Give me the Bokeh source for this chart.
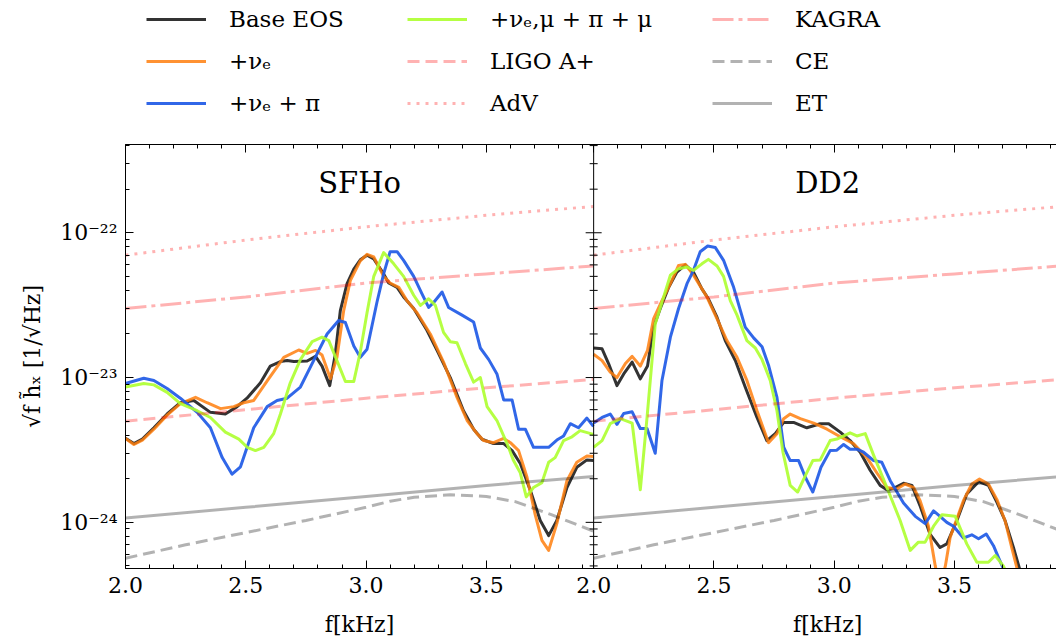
from bokeh.plotting import figure
from bokeh.models import (Range1d, FixedTicker, CustomJSTickFormatter, LinearAxis,
                          Span, Label, Legend, LegendItem)
from bokeh.core.properties import value
from bokeh.layouts import column
from bokeh.embed import file_html
from bokeh.resources import INLINE

# ---------------- data (frequency in kHz, strain sqrt(f) h_x) ----------------
# SFHo panel
sfho_base_f = [2.000, 2.035, 2.070, 2.118, 2.173, 2.228, 2.284, 2.353, 2.415, 2.464, 2.505, 2.561,
               2.602, 2.644, 2.672, 2.700, 2.755, 2.790, 2.817, 2.849, 2.872, 2.893, 2.921, 2.949,
               2.976, 3.004, 3.032, 3.073, 3.094, 3.129, 3.156, 3.198, 3.253, 3.295, 3.350, 3.405,
               3.447, 3.482, 3.530, 3.572, 3.607, 3.641, 3.683, 3.724, 3.759, 3.793, 3.835, 3.876,
               3.918, 3.945]
sfho_base_h = [3.8e-24, 3.5e-24, 3.76e-24, 4.5e-24, 5.6e-24, 6.7e-24, 6.95e-24, 5.75e-24, 5.6e-24,
               6.3e-24, 7.2e-24, 9.2e-24, 1.2e-23, 1.29e-23, 1.31e-23, 1.29e-23, 1.30e-23, 1.4e-23,
               1.2e-23, 8.8e-24, 1.45e-23, 2.9e-23, 4.45e-23, 5.6e-23, 6.5e-23, 7.0e-23, 6.6e-23,
               5.2e-23, 4.5e-23, 4.2e-23, 3.6e-23, 3.0e-23, 2.12e-23, 1.54e-23, 1.0e-23, 5.9e-24,
               4.4e-24, 3.75e-24, 3.5e-24, 3.5e-24, 3.13e-24, 2.55e-24, 1.66e-24, 1.03e-24, 8.1e-25,
               1.03e-24, 1.74e-24, 2.4e-24, 2.7e-24, 2.67e-24]

sfho_nue_f = [2.000, 2.035, 2.070, 2.118, 2.173, 2.228, 2.291, 2.339, 2.395, 2.450, 2.491, 2.533,
              2.589, 2.658, 2.720, 2.755, 2.790, 2.817, 2.852, 2.879, 2.907, 2.935, 2.976, 3.004,
              3.032, 3.073, 3.100, 3.136, 3.170, 3.212, 3.267, 3.322, 3.378, 3.420, 3.461, 3.489,
              3.530, 3.572, 3.600, 3.634, 3.669, 3.703, 3.731, 3.759, 3.793, 3.835, 3.876, 3.918,
              3.945]
sfho_nue_h = [3.8e-24, 3.45e-24, 3.7e-24, 4.4e-24, 5.5e-24, 6.6e-24, 7.3e-24, 6.7e-24, 6.1e-24,
              6.3e-24, 6.7e-24, 6.95e-24, 9.5e-24, 1.38e-23, 1.55e-23, 1.47e-23, 1.54e-23, 1.43e-23,
              9.8e-24, 1.38e-23, 2.9e-23, 4.7e-23, 6.4e-23, 7.1e-23, 6.8e-23, 5.0e-23, 4.5e-23,
              4.2e-23, 3.4e-23, 2.8e-23, 2.0e-23, 1.28e-23, 7.3e-24, 5.05e-24, 4.1e-24, 3.67e-24,
              3.55e-24, 3.8e-24, 3.55e-24, 3.13e-24, 2.05e-24, 1.13e-24, 7.5e-25, 6.4e-25, 9.8e-25,
              1.94e-24, 2.6e-24, 2.87e-24, 2.85e-24]

sfho_nuepi_f = [2.000, 2.076, 2.118, 2.173, 2.228, 2.298, 2.353, 2.402, 2.443, 2.478, 2.533, 2.589,
                2.630, 2.672, 2.727, 2.782, 2.838, 2.886, 2.914, 2.949, 2.976, 3.004, 3.045, 3.073,
                3.100, 3.129, 3.156, 3.198, 3.232, 3.260, 3.281, 3.316, 3.343, 3.399, 3.447, 3.475,
                3.510, 3.544, 3.572, 3.607, 3.634, 3.662, 3.696, 3.759, 3.793, 3.821, 3.849, 3.883,
                3.918, 3.945]
sfho_nuepi_h = [9.1e-24, 9.9e-24, 9.55e-24, 8.4e-24, 7.2e-24, 5.75e-24, 4.5e-24, 2.8e-24, 2.15e-24,
                2.42e-24, 4.5e-24, 6.3e-24, 6.95e-24, 7.2e-24, 8.6e-24, 1.31e-23, 2.0e-23, 2.48e-23,
                2.4e-23, 1.65e-23, 1.38e-23, 1.57e-23, 3.3e-23, 5.2e-23, 7.4e-23, 7.4e-23, 6.45e-23,
                5.0e-23, 3.8e-23, 3.05e-23, 3.3e-23, 3.9e-23, 3.05e-23, 2.7e-23, 2.42e-23, 1.6e-23,
                1.33e-23, 1.06e-23, 7.0e-24, 7.0e-24, 4.4e-24, 4.4e-24, 3.3e-24, 3.3e-24, 3.7e-24,
                3.95e-24, 4.8e-24, 4.5e-24, 5.25e-24, 4.6e-24]

sfho_all_f = [2.000, 2.076, 2.118, 2.173, 2.228, 2.298, 2.353, 2.415, 2.471, 2.506, 2.540, 2.575,
              2.616, 2.644, 2.685, 2.727, 2.776, 2.817, 2.845, 2.879, 2.914, 2.949, 2.976, 3.004,
              3.032, 3.073, 3.115, 3.156, 3.198, 3.226, 3.260, 3.288, 3.322, 3.350, 3.378, 3.413,
              3.447, 3.475, 3.503, 3.544, 3.586, 3.613, 3.641, 3.666, 3.696, 3.731, 3.759, 3.786,
              3.821, 3.856, 3.890, 3.945]
sfho_all_h = [8.6e-24, 9.1e-24, 8.9e-24, 7.9e-24, 6.6e-24, 5.9e-24, 5.3e-24, 4.2e-24, 3.76e-24,
              3.3e-24, 3.13e-24, 3.3e-24, 4.1e-24, 5.6e-24, 9.2e-24, 1.33e-23, 1.77e-23, 1.9e-23,
              1.8e-23, 1.31e-23, 9.4e-24, 9.4e-24, 1.5e-23, 2.8e-23, 5.0e-23, 7.3e-23, 6.1e-23,
              5.0e-23, 3.7e-23, 3.15e-23, 3.5e-23, 3.15e-23, 2.05e-23, 1.77e-23, 1.74e-23, 1.25e-23,
              9.3e-24, 1.0e-23, 6.3e-24, 5.05e-24, 3.5e-24, 2.67e-24, 2.2e-24, 1.5e-24, 1.74e-24,
              1.88e-24, 2.6e-24, 2.8e-24, 3.67e-24, 3.9e-24, 4.3e-24, 4.05e-24]

# DD2 panel
dd2_base_f = [2.000, 2.035, 2.062, 2.097, 2.125, 2.160, 2.194, 2.224, 2.249, 2.277, 2.312, 2.346,
              2.381, 2.415, 2.450, 2.477, 2.513, 2.547, 2.589, 2.630, 2.679, 2.720, 2.755, 2.790,
              2.831, 2.886, 2.942, 2.977, 3.025, 3.066, 3.108, 3.150, 3.191, 3.219, 3.247, 3.288,
              3.323, 3.357, 3.398, 3.440, 3.468, 3.510, 3.551, 3.600, 3.641, 3.676, 3.710, 3.745,
              3.770, 3.800]
dd2_base_h = [1.6e-23, 1.58e-23, 1.25e-23, 8.8e-24, 1.06e-23, 1.28e-23, 9.8e-24, 1.2e-23, 2.23e-23,
              3.0e-23, 4.2e-23, 5.35e-23, 6.0e-23, 5.35e-23, 4.1e-23, 3.5e-23, 2.6e-23, 1.8e-23,
              1.31e-23, 8.6e-24, 5.3e-24, 3.67e-24, 4.1e-24, 4.9e-24, 4.9e-24, 4.5e-24, 4.8e-24,
              4.8e-24, 4.2e-24, 3.67e-24, 3.05e-24, 2.28e-24, 1.8e-24, 1.68e-24, 1.72e-24, 1.86e-24,
              1.8e-24, 1.3e-24, 8.3e-25, 6.7e-25, 7.1e-25, 1.03e-24, 1.57e-24, 1.91e-24, 1.8e-24,
              1.38e-24, 1.03e-24, 6.7e-25, 4.8e-25, 3.3e-25]

dd2_nue_f = [2.000, 2.035, 2.069, 2.097, 2.132, 2.160, 2.194, 2.224, 2.249, 2.284, 2.319, 2.353,
             2.381, 2.415, 2.471, 2.513, 2.554, 2.596, 2.637, 2.679, 2.727, 2.762, 2.790, 2.817,
             2.859, 2.915, 2.970, 3.025, 3.080, 3.136, 3.177, 3.219, 3.260, 3.295, 3.330, 3.357,
             3.392, 3.420, 3.441, 3.462, 3.482, 3.537, 3.572, 3.604, 3.641, 3.676, 3.710, 3.738,
             3.760, 3.800]
dd2_nue_h = [1.45e-23, 1.31e-23, 1.09e-23, 1.0e-23, 1.25e-23, 1.4e-23, 1.2e-23, 1.54e-23, 2.54e-23,
             3.4e-23, 4.45e-23, 5.95e-23, 6.05e-23, 5.1e-23, 3.6e-23, 2.54e-23, 1.8e-23, 1.38e-23,
             9.55e-24, 5.9e-24, 3.55e-24, 4.1e-24, 5.2e-24, 5.6e-24, 5.2e-24, 4.85e-24, 4.4e-24,
             3.9e-24, 3.5e-24, 2.8e-24, 2.2e-24, 1.74e-24, 1.7e-24, 1.84e-24, 1.74e-24, 1.41e-24,
             9.4e-25, 5.0e-25, 3.5e-25, 5.0e-25, 7.9e-25, 1.41e-24, 1.84e-24, 1.99e-24, 1.84e-24,
             1.44e-24, 1.03e-24, 6.7e-25, 4.8e-25, 3.0e-25]

dd2_nuepi_f = [2.000, 2.035, 2.069, 2.097, 2.125, 2.160, 2.194, 2.222, 2.256, 2.284, 2.319, 2.353,
               2.388, 2.415, 2.443, 2.474, 2.506, 2.540, 2.582, 2.630, 2.665, 2.700, 2.728, 2.762,
               2.790, 2.817, 2.852, 2.880, 2.911, 2.945, 2.983, 3.011, 3.039, 3.066, 3.094, 3.122,
               3.164, 3.198, 3.233, 3.288, 3.337, 3.378, 3.413, 3.440, 3.468, 3.496, 3.537, 3.572,
               3.600, 3.632, 3.662, 3.683, 3.703, 3.750]
dd2_nuepi_h = [4.85e-24, 5.3e-24, 5.6e-24, 4.75e-24, 5.65e-24, 5.8e-24, 4.45e-24, 4.45e-24, 3.0e-24,
               9.55e-24, 1.9e-23, 3.0e-23, 4.45e-23, 5.5e-23, 7.4e-23, 8.1e-23, 7.9e-23, 6.45e-23,
               4.2e-23, 2.23e-23, 1.88e-23, 1.63e-23, 1.2e-23, 7.3e-24, 3.3e-24, 2.67e-24, 2.67e-24,
               2.05e-24, 1.62e-24, 2.4e-24, 3.13e-24, 3.15e-24, 3.45e-24, 3.2e-24, 3.2e-24, 3.05e-24,
               2.67e-24, 2.6e-24, 1.94e-24, 1.36e-24, 1.1e-24, 9.8e-25, 1.2e-24, 1.1e-24, 1.0e-24,
               9.4e-25, 7.8e-25, 8.2e-25, 7.7e-25, 8.3e-25, 6.9e-25, 5.7e-25, 4.8e-25, 3.5e-25]

dd2_all_f = [2.000, 2.035, 2.069, 2.111, 2.160, 2.194, 2.222, 2.256, 2.284, 2.319, 2.353, 2.388,
             2.415, 2.450, 2.477, 2.513, 2.540, 2.568, 2.596, 2.637, 2.672, 2.700, 2.734, 2.762,
             2.787, 2.817, 2.848, 2.880, 2.911, 2.942, 2.983, 3.011, 3.066, 3.094, 3.129, 3.164,
             3.219, 3.274, 3.316, 3.350, 3.378, 3.413, 3.448, 3.503, 3.551, 3.593, 3.641, 3.669,
             3.703, 3.730]
dd2_all_h = [3.3e-24, 3.67e-24, 4.8e-24, 5.2e-24, 4.85e-24, 1.68e-24, 5.3e-24, 2.35e-23, 3.3e-23,
             5.1e-23, 5.65e-23, 5.8e-23, 5.5e-23, 6.1e-23, 6.55e-23, 5.9e-23, 5.0e-23, 3.4e-23,
             2.7e-23, 1.8e-23, 1.6e-23, 1.33e-23, 9.55e-24, 5.9e-24, 3.05e-24, 1.8e-24, 1.62e-24,
             2.1e-24, 2.67e-24, 2.7e-24, 3.67e-24, 3.76e-24, 4.15e-24, 3.95e-24, 4.1e-24, 2.9e-24,
             1.74e-24, 1.03e-24, 6.4e-25, 7.3e-25, 7.3e-25, 9.4e-25, 1.13e-24, 1.1e-24, 7.1e-25,
             5.3e-25, 5.3e-25, 5.9e-25, 5.0e-25, 4.0e-25]

# detector sensitivity curves
sens_f = [2.0, 2.5, 3.0, 3.5, 3.945]
ligo_h = [5.0e-24, 6.0e-24, 7.2e-24, 8.5e-24, 9.7e-24]
adv_h = [7.0e-23, 8.9e-23, 1.1e-22, 1.32e-22, 1.52e-22]
kagra_h = [3.0e-23, 3.6e-23, 4.5e-23, 5.2e-23, 5.9e-23]
et_h = [1.07e-24, 1.27e-24, 1.51e-24, 1.8e-24, 2.07e-24]
ce_f = [2.0, 2.25, 2.5, 2.75, 3.0, 3.1, 3.2, 3.35, 3.5, 3.62, 3.77, 3.945]
ce_h = [5.65e-25, 7.0e-25, 8.5e-25, 1.03e-24, 1.27e-24, 1.4e-24, 1.49e-24, 1.55e-24, 1.51e-24,
        1.39e-24, 1.13e-24, 8.7e-25]

panel_titles = ["SFHo", "DD2"]
x_label = "f[kHz]"
y_label = "√f h\u0303\u2093 [1/√Hz]"

# ---------------- styling ----------------
FONT = "DejaVu Serif"
FRAME_LEFT = 125
XMIN, XMAX = 2.0, 3.946          # each panel's frequency window
PANEL = XMAX - XMIN
XEND = 5.87                      # right edge of the visible area (right panel is cut)
YMIN, YMAX = 4.8e-25, 4.07e-22

series_style = [
    ("Base EOS", "black", 0.8),
    ("+ν\u2091", "#ff7f0e", 0.85),
    ("+ν\u2091 + π", "#1f5ae6", 0.92),
    ("+ν\u2091,μ + π + μ", "#adff2f", 0.9),
]
sens_style = [
    ("LIGO A+", "red", "12 6"),
    ("AdV", "red", "3 6"),
    ("KAGRA", "red", "21 5 4 5"),
    ("CE", "black", "12 6"),
    ("ET", "black", "solid"),
]

# ---------------- main figure ----------------
x_range = Range1d(XMIN, XEND)
dd2_range = Range1d(XMIN - PANEL, XEND - PANEL)
p = figure(width=1056, height=470, x_range=x_range, y_range=Range1d(YMIN, YMAX),
           y_axis_type="log", output_backend="svg", toolbar_location=None,
           min_border_left=FRAME_LEFT, min_border_right=0, min_border_top=4, min_border_bottom=42)
p.extra_x_ranges = {"dd2": dd2_range}
p.xgrid.visible = False
p.ygrid.visible = False
p.outline_line_color = None

sfho = [(sfho_base_f, sfho_base_h), (sfho_nue_f, sfho_nue_h),
        (sfho_nuepi_f, sfho_nuepi_h), (sfho_all_f, sfho_all_h)]
dd2 = [(dd2_base_f, dd2_base_h), (dd2_nue_f, dd2_nue_h),
       (dd2_nuepi_f, dd2_nuepi_h), (dd2_all_f, dd2_all_h)]

for (f, h), (_, col, a) in zip(sfho, series_style):
    p.line(f, h, line_color=col, line_alpha=a, line_width=3, line_join="round")
for (f, h), (_, col, a) in zip(dd2, series_style):
    p.line(f, h, line_color=col, line_alpha=a, line_width=3, line_join="round",
           x_range_name="dd2")

sens_data = [(sens_f, ligo_h), (sens_f, adv_h), (sens_f, kagra_h), (ce_f, ce_h), (sens_f, et_h)]
for rng in ("default", "dd2"):
    for (f, h), (_, col, dash) in zip(sens_data, sens_style):
        p.line(f, h, line_color=col, line_alpha=0.3, line_width=3, line_dash=dash,
               x_range_name=rng)

# x ticks (both panels share the same frequency scale; right panel shifted by PANEL)
x_major = [2.0, 2.5, 3.0, 3.5]
x_minor = [round(2.0 + 0.1 * i, 1) for i in range(20)]
x_ticker = FixedTicker(ticks=x_major + [t + PANEL for t in x_major],
                       minor_ticks=x_minor + [t + PANEL for t in x_minor])
x_fmt = CustomJSTickFormatter(args=dict(xmax=XMAX, panel=PANEL), code="""
    const v = tick > xmax - 1e-6 ? tick - panel : tick;
    return v.toFixed(1);
""")

xa = p.xaxis[0]
xa.ticker = x_ticker
xa.formatter = x_fmt
top = LinearAxis(ticker=x_ticker, formatter=CustomJSTickFormatter(code="return '';"),
                 major_label_text_font_size="0px", major_label_standoff=0)
p.add_layout(top, "above")

y_major = [1e-24, 1e-23, 1e-22]
y_minor = [m * 10.0 ** e for e in (-25, -24, -23, -22) for m in range(2, 10)]
y_minor = [v for v in y_minor if YMIN <= v <= YMAX]
ya = p.yaxis[0]
ya.ticker = FixedTicker(ticks=y_major, minor_ticks=y_minor)
ya.formatter = CustomJSTickFormatter(code="""
    const sup = {"-":"\u207b","0":"\u2070","1":"\u00b9","2":"\u00b2","3":"\u00b3","4":"\u2074",
                 "5":"\u2075","6":"\u2076","7":"\u2077","8":"\u2078","9":"\u2079"};
    const e = Math.round(Math.log10(tick));
    return "10" + String(e).split("").map(c => sup[c]).join("");
""")
ya.axis_label = y_label

for ax in (xa, top, ya):
    ax.major_tick_in = 8
    ax.major_tick_out = 0
    ax.minor_tick_in = 4
    ax.minor_tick_out = 0
    ax.axis_line_color = "black"
    ax.major_tick_line_color = "black"
    ax.minor_tick_line_color = "black"
for ax in (xa, ya):
    ax.major_label_text_font = FONT
    ax.major_label_text_font_size = "22px"
    ax.major_label_text_color = "black"
    ax.axis_label_text_font = FONT
    ax.axis_label_text_font_size = "22px"
    ax.axis_label_text_font_style = "normal"
    ax.axis_label_text_color = "black"
xa.major_label_standoff = 8
ya.major_label_standoff = 8
ya.axis_label_standoff = 12

# divider between the two panels, with inward ticks on both sides
p.add_layout(Span(location=XMAX, dimension="height", line_color="black", line_width=1))
for ang in (0.0, 3.141592653589793):
    p.ray(x=[XMAX] * len(y_major), y=y_major, length=8, angle=ang, length_units="screen",
          line_color="black", line_width=1)
    p.ray(x=[XMAX] * len(y_minor), y=y_minor, length=4, angle=ang, length_units="screen",
          line_color="black", line_width=1)

for title, rng in zip(panel_titles, ("default", "dd2")):
    p.add_layout(Label(x=XMIN + PANEL / 2, y=386, y_units="screen", x_range_name=rng,
                       text=title, text_align="center", text_baseline="alphabetic",
                       text_font=FONT, text_font_size="29px", text_color="black"))

# ---------------- x-label strip (one label under each panel) ----------------
xs = figure(width=1056, height=27, x_range=x_range, y_range=Range1d(0, 1),
            output_backend="svg", toolbar_location=None, min_border=0,
            x_axis_location=None, y_axis_location=None)
xs.extra_x_ranges = {"dd2": dd2_range}
xs.xgrid.visible = False
xs.ygrid.visible = False
xs.outline_line_color = None
for rng in ("default", "dd2"):
    xs.add_layout(Label(x=XMIN + PANEL / 2, y=13, y_units="screen", x_range_name=rng,
                        text=x_label, text_align="center", text_baseline="alphabetic",
                        text_font=FONT, text_font_size="22px", text_color="black"))

# ---------------- legend strip ----------------
lg = figure(width=1056, height=140, x_range=Range1d(0, 1), y_range=Range1d(0, 1),
            output_backend="svg", toolbar_location=None, min_border=0,
            x_axis_location=None, y_axis_location=None)
lg.xgrid.visible = False
lg.ygrid.visible = False
lg.outline_line_color = None

items = []
for name, col, a in series_style:
    r = lg.line(x=[-2, -1], y=[-2, -1], line_color=col, line_alpha=a, line_width=3)
    items.append(LegendItem(label=value(name), renderers=[r]))
for name, col, dash in sens_style:
    r = lg.line(x=[-2, -1], y=[-2, -1], line_color=col, line_alpha=0.3, line_width=3,
                line_dash=dash)
    items.append(LegendItem(label=value(name), renderers=[r]))

columns = [items[0:3], items[3:6], items[6:9]]
col_x = [146, 407, 712]          # page x of each legend column's line sample
for its, cx in zip(columns, col_x):
    leg = Legend(items=its, location=(cx - FRAME_LEFT, 22), orientation="vertical",
                 glyph_width=60, glyph_height=30, label_height=30, label_standoff=23,
                 spacing=12, padding=0, margin=0, border_line_color=None,
                 background_fill_alpha=0, label_text_font=FONT, label_text_font_size="23px",
                 label_text_color="black", label_text_baseline="middle")
    lg.add_layout(leg)

layout = column(lg, p, xs, spacing=0)
open("out.html", "w").write(file_html(layout, INLINE))
